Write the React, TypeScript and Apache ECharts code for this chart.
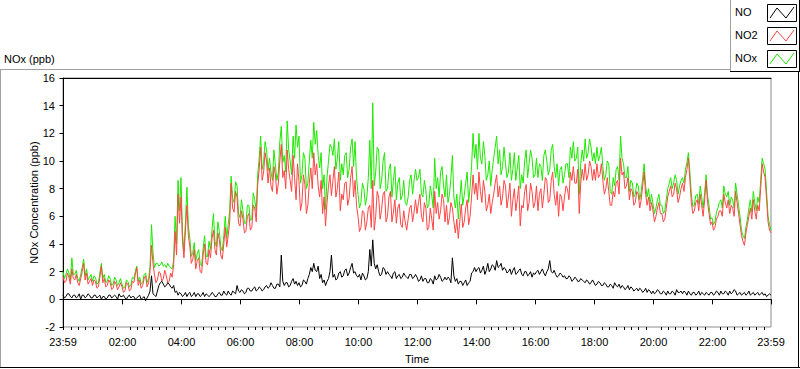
import React, { useEffect, useRef } from "react";
import * as echarts from "echarts";

// Time of first sample in minutes relative to 00:00 (23:59 of the previous day) and sample step
const START_MIN = -1;
const STEP_MIN = 3;

// NO (ppb), one row per hour
const NO = [
  0.3,0.1, 0.2,0.4, 0.4,0.2, 0.1,0.3, 0.3,0.1, 0.2,0.4, 0.0,0.3, 0.3,0.1, 0.2,0.4, 0.3,0.1,
  0.1,0.3, 0.3,0.1, 0.2,0.3, 0.0,0.2, 0.2,0.0, 0.1,0.3, 0.3,0.1, 0.2,0.3, 0.2,0.0, 0.4,0.2,
  0.2,0.3, 0.1,0.0, 0.2,0.3, 0.1,0.2, 0.2,0.0, 0.1,0.2, 0.3,0.0, 0.1,0.2, -0.1,0.1, 0.3,0.6,
  1.7,0.4, 0.3,0.2, 0.6,1.0, 1.2,1.3, 1.1,0.9, 1.0,1.2, 1.1,0.9, 0.8,1.0, 0.5,0.6, 0.3,0.5,
  0.4,0.2, 0.3,0.5, 0.2,0.4, 0.5,0.2, 0.3,0.5, 0.2,0.4, 0.4,0.2, 0.3,0.5, 0.2,0.4, 0.3,0.2,
  0.3,0.5, 0.4,0.2, 0.2,0.4, 0.5,0.3, 0.3,0.6, 0.4,0.3, 0.6,0.4, 0.3,0.6, 0.5,0.4, 1.0,0.6,
  0.5,0.7, 0.6,0.4, 0.5,0.8, 0.8,0.6, 0.6,0.8, 0.9,0.6, 0.7,0.9, 0.8,0.6, 0.7,0.9, 1.0,0.8,
  0.9,1.2, 1.0,0.8, 0.8,1.1, 1.1,0.9, 3.2,1.3, 1.0,1.2, 1.2,0.9, 1.0,1.3, 1.5,1.1, 1.3,1.0,
  1.2,0.9, 1.0,1.4, 1.3,1.1, 1.5,1.8, 2.3,2.0, 2.6,2.1, 2.0,2.4, 1.5,1.8, 1.2,1.4, 1.0,1.3,
  1.5,2.0, 3.2,1.6, 1.8,1.4, 1.5,1.9, 2.0,1.6, 1.7,2.1, 2.2,1.7, 1.9,2.3, 2.6,1.9, 2.0,1.7,
  1.6,1.8, 1.4,1.9, 1.7,1.4, 1.5,2.0, 3.6,2.4, 4.3,2.6, 2.2,2.5, 2.0,1.7, 1.8,2.3, 2.2,1.8,
  2.0,1.8, 1.7,1.5, 1.9,2.0, 1.5,1.7, 1.8,1.5, 1.6,1.9, 1.7,1.6, 1.5,1.8, 1.8,1.5, 1.6,1.8,
  1.6,1.3, 1.4,1.7, 1.3,1.5, 1.5,1.2, 1.2,1.5, 1.4,1.1, 1.7,1.4, 1.5,1.8, 1.6,1.3, 1.4,1.6,
  1.4,1.6, 1.5,1.2, 3.0,1.7, 1.3,1.5, 1.1,1.3, 1.3,1.0, 1.2,1.4, 1.0,1.2, 1.3,1.9, 2.0,2.3,
  2.0,2.2, 2.3,1.9, 2.1,2.4, 1.8,2.1, 2.6,2.0, 2.2,2.5, 2.4,2.1, 2.8,2.3, 2.4,2.6, 2.1,2.3,
  2.2,1.9, 2.0,2.2, 1.8,2.1, 2.3,1.8, 1.9,2.1, 2.2,1.8, 1.7,2.0, 2.0,1.7, 1.8,2.0, 1.6,1.9,
  1.8,2.0, 2.1,1.8, 2.0,2.2, 1.9,1.7, 2.0,2.2, 2.8,2.0, 1.9,2.1, 1.8,1.6, 1.7,1.9, 1.8,1.6,
  1.7,1.5, 1.5,1.7, 1.6,1.3, 1.4,1.6, 1.5,1.3, 1.3,1.5, 1.4,1.3, 1.2,1.4, 1.3,1.1, 1.2,1.4,
  1.2,1.0, 1.1,1.3, 1.2,1.0, 1.0,1.2, 1.1,0.9, 0.9,1.1, 1.0,0.8, 1.2,1.0, 0.9,1.1, 0.8,1.0,
  0.9,0.7, 0.8,1.0, 0.7,0.9, 0.8,0.6, 0.7,0.8, 0.6,0.8, 0.7,0.5, 0.6,0.8, 0.5,0.7, 0.6,0.4,
  0.6,0.4, 0.5,0.7, 0.6,0.4, 0.4,0.6, 0.5,0.3, 0.6,0.4, 0.4,0.6, 0.5,0.3, 0.7,0.5, 0.5,0.6,
  0.4,0.6, 0.5,0.3, 0.6,0.4, 0.3,0.5, 0.5,0.3, 0.4,0.6, 0.3,0.5, 0.4,0.3, 0.5,0.4, 0.3,0.5,
  0.5,0.3, 0.4,0.6, 0.5,0.3, 0.6,0.4, 0.4,0.6, 0.5,0.3, 0.6,0.4, 0.5,0.7, 0.6,0.3, 0.4,0.5,
  0.3,0.4, 0.5,0.3, 0.4,0.6, 0.3,0.4, 0.5,0.3, 0.4,0.5, 0.3,0.4, 0.5,0.3, 0.4,0.2, 0.3,0.4, 0.3,
];

// NO2 (ppb), one row per hour
const NO2 = [
  1.7,1.2, 1.3,1.9, 1.6,1.1, 2.2,1.5, 1.4,1.8, 1.2,1.0, 1.5,2.0, 2.6,1.4, 1.9,1.1, 1.3,1.5,
  1.0,1.4, 1.3,0.8, 0.9,1.6, 2.4,1.2, 1.5,0.9, 1.0,1.4, 1.2,0.7, 0.8,1.3, 1.1,0.7, 0.9,1.2,
  0.9,0.5, 0.6,1.2, 1.1,0.6, 0.7,1.3, 1.2,1.8, 2.3,1.0, 1.4,0.8, 1.0,1.5, 1.7,0.9, 1.2,2.0,
  3.9,2.6, 1.8,1.2, 1.4,2.0, 1.9,1.3, 1.5,2.1, 1.7,1.2, 1.3,1.9, 1.6,2.5, 4.9,3.2, 7.6,5.5,
  7.4,4.2, 3.0,5.0, 6.8,4.6, 3.8,2.6, 2.9,3.6, 2.2,2.8, 3.0,2.0, 1.9,3.2, 4.0,2.6, 2.5,3.6,
  3.0,4.4, 5.0,3.6, 3.2,4.8, 4.3,3.2, 2.9,4.0, 5.2,3.8, 4.6,5.6, 8.4,6.6, 6.3,7.8, 7.4,5.5,
  5.3,6.4, 5.8,4.8, 4.9,6.0, 6.2,5.0, 5.2,6.8, 6.6,5.6, 8.3,9.4, 11.0,8.6, 9.2,10.6, 10.0,8.4,
  9.5,8.2, 7.8,9.6, 9.0,7.6, 8.4,10.0, 11.2,8.8, 9.3,8.0, 10.8,9.4, 8.6,7.8, 10.4,8.8, 7.2,9.8,
  8.5,6.4, 7.0,9.0, 8.3,6.2, 6.8,8.4, 9.5,8.0, 10.6,9.0, 9.8,8.2, 7.4,8.6, 6.2,7.4, 5.3,7.0,
  8.2,9.0, 7.5,8.6, 9.6,7.4, 8.0,9.2, 6.4,7.6, 7.2,8.4, 8.5,6.8, 7.3,8.8, 9.6,7.4, 8.6,6.8,
  6.0,4.9, 5.2,6.4, 6.3,5.0, 5.6,6.6, 6.8,5.2, 8.6,5.0, 6.0,7.8, 7.4,5.8, 6.5,7.6, 7.8,5.6,
  6.0,7.4, 7.8,5.6, 6.3,7.2, 5.5,6.6, 6.9,5.4, 5.2,6.4, 5.6,5.0, 5.8,6.6, 6.8,5.6, 6.3,7.2,
  6.2,7.0, 7.6,6.0, 5.6,7.0, 6.6,5.0, 5.2,6.6, 5.8,5.0, 7.8,6.2, 7.0,5.8, 6.4,7.6, 7.2,5.6,
  6.8,5.4, 5.9,7.0, 6.6,5.6, 4.8,5.8, 4.4,5.6, 6.9,5.2, 5.6,6.6, 7.2,5.4, 6.0,7.4, 9.0,7.6,
  8.4,7.2, 9.2,7.8, 7.0,8.6, 7.8,6.4, 6.8,7.6, 6.2,7.0, 7.6,8.4, 9.0,7.4, 8.2,6.8, 7.4,8.6,
  8.2,6.6, 7.4,8.4, 6.0,7.2, 8.0,6.4, 7.2,8.2, 5.3,6.8, 6.6,7.8, 8.3,6.4, 7.0,8.4, 7.8,6.6,
  7.0,8.2, 6.4,7.6, 8.0,6.6, 7.6,8.8, 8.6,7.0, 7.2,8.6, 9.2,7.6, 6.8,7.8, 6.0,7.6, 7.4,6.4,
  7.4,8.2, 8.0,7.2, 9.2,8.6, 9.6,8.4, 8.4,9.4, 6.2,8.4, 9.4,8.6, 9.8,8.6, 9.0,10.0, 9.6,8.6,
  9.4,8.6, 9.8,8.8, 9.0,9.8, 8.6,7.6, 8.0,8.8, 7.8,6.8, 6.8,7.8, 7.4,8.4, 8.6,7.6, 10.2,9.0,
  9.2,8.0, 8.2,8.8, 7.2,8.0, 7.8,6.8, 7.0,7.8, 7.6,6.6, 7.2,8.2, 9.2,7.6, 6.8,7.4, 6.4,7.0,
  6.4,5.6, 6.0,6.6, 7.0,6.2, 6.2,5.6, 5.8,6.6, 7.4,7.8, 8.2,7.4, 7.6,8.4, 8.0,7.0, 7.4,8.0,
  8.4,7.8, 8.8,9.4, 10.2,8.6, 7.0,6.2, 6.4,7.0, 7.2,6.4, 7.6,6.8, 6.0,7.2, 8.6,7.0, 6.2,5.4,
  5.6,5.0, 5.2,5.8, 6.0,6.4, 6.4,6.0, 7.6,7.0, 6.6,7.2, 6.2,6.8, 6.6,6.0, 7.8,7.0, 6.2,5.4,
  4.6,4.2, 3.9,4.8, 5.4,6.0, 6.6,5.8, 7.2,6.4, 5.8,6.8, 6.4,8.0, 9.8,9.2, 8.8,7.2, 5.6,5.0, 4.8,
];

// NOx (ppb), one row per hour
const NOX = [
  2.0,1.5, 1.8,2.2, 1.9,1.4, 3.0,1.8, 1.8,2.1, 1.5,1.3, 1.8,2.3, 2.9,1.7, 2.2,1.4, 1.6,1.8,
  1.3,1.7, 1.6,1.1, 1.2,1.9, 2.6,1.5, 1.8,1.2, 1.3,1.7, 1.5,1.0, 1.1,1.6, 1.4,1.0, 1.2,1.5,
  1.1,0.8, 0.9,1.4, 1.3,0.9, 1.0,1.6, 1.5,2.0, 2.4,1.3, 1.6,1.1, 1.2,1.8, 1.9,1.2, 1.5,2.3,
  5.4,3.4, 2.3,2.6, 2.6,2.4, 2.5,2.7, 2.4,2.5, 2.3,2.6, 2.4,2.3, 2.2,2.8, 6.0,4.0, 8.6,6.4,
  8.8,4.8, 3.5,5.6, 8.1,5.3, 4.4,3.1, 3.4,4.1, 2.8,3.3, 3.6,2.6, 2.4,3.7, 4.6,3.1, 3.1,4.2,
  3.6,5.0, 6.2,4.2, 3.8,5.6, 4.9,3.8, 3.5,4.6, 6.0,4.4, 5.4,6.4, 8.9,7.3, 7.0,8.5, 8.2,6.2,
  5.9,7.2, 6.4,5.5, 5.5,6.8, 6.8,5.7, 5.8,7.7, 7.2,6.4, 9.0,10.2, 11.8,9.4, 9.9,11.4, 10.8,9.3,
  10.2,9.2, 8.6,10.8, 9.7,8.6, 9.2,11.4, 12.5,9.9, 10.4,9.2, 12.9,10.8, 10.0,9.0, 11.8,10.2, 12.6,11.0,
  11.8,8.4, 9.0,10.6, 10.2,8.0, 8.4,10.0, 11.5,10.2, 12.8,11.2, 12.2,10.4, 9.5,10.6, 8.0,9.0, 6.5,8.8,
  10.0,11.2, 11.0,10.4, 11.6,9.4, 10.2,11.4, 8.6,9.8, 9.0,10.4, 10.6,8.8, 9.4,11.0, 11.6,9.6, 11.4,8.8,
  7.6,6.6, 7.0,8.4, 8.0,6.8, 7.4,8.8, 11.5,8.0, 14.2,8.2, 9.2,11.0, 10.8,8.0, 8.6,10.0, 10.6,7.8,
  8.0,9.4, 9.8,7.4, 8.6,9.6, 7.2,8.4, 8.8,7.2, 7.5,8.6, 7.0,6.8, 7.4,8.6, 9.0,7.6, 8.6,9.4,
  8.6,8.8, 9.4,7.6, 7.4,8.6, 7.9,6.6, 6.8,8.2, 7.5,6.6, 10.2,8.0, 8.8,7.4, 9.2,9.6, 8.2,7.4,
  9.0,7.0, 7.6,8.8, 10.4,7.4, 6.6,7.6, 5.8,7.2, 8.6,6.8, 7.5,8.4, 9.2,7.0, 8.1,9.6, 12.0,10.2,
  11.2,9.4, 12.0,10.2, 9.8,11.4, 10.4,8.6, 9.0,10.0, 8.2,9.4, 10.2,11.0, 11.8,9.8, 10.8,9.0, 9.6,11.0,
  9.8,8.8, 9.2,10.6, 8.6,9.4, 10.6,8.6, 9.5,10.4, 8.0,9.0, 8.4,10.0, 10.8,8.8, 9.8,10.8, 10.2,8.8,
  9.0,10.2, 8.8,9.8, 9.6,8.6, 10.4,10.8, 10.0,9.0, 9.4,10.8, 11.2,9.6, 8.8,9.8, 8.2,9.4, 9.6,8.4,
  9.0,9.8, 9.8,8.8, 11.0,10.2, 11.4,10.0, 10.2,11.0, 7.6,9.8, 10.8,10.0, 11.6,10.2, 10.6,11.6, 11.0,10.0,
  10.6,9.8, 11.0,10.0, 10.4,11.0, 9.6,8.6, 9.0,10.0, 9.8,7.8, 7.6,8.8, 8.2,9.4, 9.6,8.6, 11.8,10.2,
  9.8,8.8, 8.8,9.6, 7.8,8.6, 8.4,7.4, 7.6,8.4, 8.2,7.2, 7.8,8.8, 9.8,8.2, 7.4,8.0, 6.9,7.6,
  6.9,6.2, 6.6,7.2, 7.6,6.8, 6.8,6.2, 6.4,7.2, 8.0,8.4, 8.8,8.0, 8.4,9.0, 8.6,7.6, 8.2,8.6,
  8.8,8.4, 9.4,9.9, 10.6,9.2, 7.6,6.7, 6.8,7.5, 7.6,6.9, 8.2,7.4, 6.6,7.7, 9.0,7.5, 6.8,5.8,
  5.9,5.4, 5.6,6.3, 6.6,7.0, 7.2,6.6, 8.2,7.6, 7.4,7.8, 6.8,7.4, 7.2,6.6, 8.4,7.6, 6.8,6.0,
  5.0,4.6, 4.4,5.2, 5.8,6.6, 7.2,6.3, 7.8,7.0, 6.4,7.4, 7.0,8.6, 10.2,9.8, 9.4,7.8, 6.0,5.4, 5.0,
];

// X axis: major tick positions (minutes since 00:00) and their labels
const MAJOR_TICKS = [-1, 120, 240, 360, 480, 600, 720, 840, 960, 1080, 1200, 1320, 1439];
const TICK_LABELS = ["23:59", "02:00", "04:00", "06:00", "08:00", "10:00", "12:00", "14:00", "16:00", "18:00", "20:00", "22:00", "23:59"];
const MINOR_STEP = 15;

const Y_MIN = -2;
const Y_MAX = 16;
const Y_STEP = 2;

const SERIES_NAMES = ["NO", "NO2", "NOx"];
const COLORS = { NO: "#000000", NO2: "#ff4545", NOx: "#1ee800" };

const FONT = "Liberation Sans, Arial, sans-serif";

function toPairs(values: number[]) {
  return values.map((v, i) => [START_MIN + i * STEP_MIN, v]);
}

export default function App() {
  const ref = useRef<HTMLDivElement>(null);

  useEffect(() => {
    if (!ref.current) return;
    const chart = echarts.init(ref.current, undefined, { renderer: "svg" });

    const minorTicks: number[] = [];
    for (let m = 0; m < 1440; m += MINOR_STEP) {
      if (!MAJOR_TICKS.includes(m) && m > -1 && m < 1439) minorTicks.push(m);
    }
    const labelFor = (v: number) => {
      const idx = MAJOR_TICKS.indexOf(Math.round(v));
      return idx >= 0 ? TICK_LABELS[idx] : "";
    };

    const legendItems = SERIES_NAMES.map((name, i) => {
      const y0 = 4 + i * 23;
      const color = (COLORS as any)[name];
      return [
        {
          type: "text",
          left: 735,
          top: y0 + 2,
          style: { text: name, fill: "#000", font: `11px ${FONT}` },
        },
        {
          type: "rect",
          shape: { x: 767.5, y: y0 + 0.5, width: 29, height: 17 },
          style: { fill: "#fff", stroke: "#000", lineWidth: 1 },
        },
        {
          type: "polyline",
          shape: {
            points: [
              [770, y0 + 14],
              [777, y0 + 4],
              [786, y0 + 14],
              [794, y0 + 3],
            ],
          },
          style: { stroke: color, lineWidth: 1, fill: "none" },
        },
      ];
    }).flat();

    const option: any = {
      animation: false,
      backgroundColor: "#ffffff",
      textStyle: { fontFamily: FONT },
      grid: {
        left: 63,
        right: 29,
        top: 78,
        bottom: 39,
        containLabel: false,
        show: true,
        borderColor: "#8c8c8c",
        borderWidth: 1,
        backgroundColor: "transparent",
      },
      xAxis: [
        {
          type: "value",
          min: MAJOR_TICKS[0],
          max: MAJOR_TICKS[MAJOR_TICKS.length - 1],
          position: "bottom",
          name: "Time",
          nameLocation: "middle",
          nameGap: 26,
          nameMoveOverlap: false,
          nameTextStyle: { color: "#000", fontSize: 11, fontFamily: FONT },
          axisLine: { show: true, lineStyle: { color: "#000", width: 1 } },
          axisTick: { show: true, customValues: MAJOR_TICKS, length: 5, inside: false, lineStyle: { color: "#000" } },
          axisLabel: {
            show: true,
            customValues: MAJOR_TICKS,
            formatter: (v: number) => labelFor(v),
            color: "#000",
            fontSize: 11,
            fontFamily: FONT,
            margin: 9,
            showMinLabel: true,
            showMaxLabel: true,
          },
          splitLine: { show: false },
        },
        {
          type: "value",
          min: MAJOR_TICKS[0],
          max: MAJOR_TICKS[MAJOR_TICKS.length - 1],
          position: "bottom",
          axisLine: { show: false },
          axisTick: { show: true, customValues: minorTicks, length: 3, inside: false, lineStyle: { color: "#000" } },
          axisLabel: { show: false },
          splitLine: { show: false },
        },
        {
          type: "value",
          min: MAJOR_TICKS[0],
          max: MAJOR_TICKS[MAJOR_TICKS.length - 1],
          position: "top",
          axisLine: { show: true, lineStyle: { color: "#000", width: 1 } },
          axisTick: { show: false },
          axisLabel: { show: false },
          splitLine: { show: false },
        },
      ],
      yAxis: [
        {
          type: "value",
          min: Y_MIN,
          max: Y_MAX,
          interval: Y_STEP,
          position: "left",
          name: "NOx Concentration (ppb)",
          nameLocation: "middle",
          nameGap: 24,
          nameMoveOverlap: false,
          nameTextStyle: { color: "#000", fontSize: 11, fontFamily: FONT },
          axisLine: { show: true, lineStyle: { color: "#000", width: 1 } },
          axisTick: { show: true, length: 4, inside: false, lineStyle: { color: "#000" } },
          axisLabel: { color: "#000", fontSize: 11, fontFamily: FONT, margin: 8 },
          splitLine: { show: false },
        },
      ],
      series: [
        {
          name: "NOx",
          type: "line",
          xAxisIndex: 0,
          yAxisIndex: 0,
          data: toPairs(NOX),
          showSymbol: false,
          symbol: "none",
          lineStyle: { color: COLORS.NOx, width: 1 },
          itemStyle: { color: COLORS.NOx },
          z: 2,
        },
        {
          name: "NO2",
          type: "line",
          xAxisIndex: 0,
          yAxisIndex: 0,
          data: toPairs(NO2),
          showSymbol: false,
          symbol: "none",
          lineStyle: { color: COLORS.NO2, width: 1 },
          itemStyle: { color: COLORS.NO2 },
          z: 3,
        },
        {
          name: "NO",
          type: "line",
          xAxisIndex: 0,
          yAxisIndex: 0,
          data: toPairs(NO),
          showSymbol: false,
          symbol: "none",
          lineStyle: { color: COLORS.NO, width: 1 },
          itemStyle: { color: COLORS.NO },
          z: 4,
        },
      ],
      graphic: [
        // outer panel frame (sunken look)
        { type: "line", shape: { x1: 0, y1: 69.5, x2: 730, y2: 69.5 }, style: { stroke: "#a0a0a0", lineWidth: 1 } },
        { type: "line", shape: { x1: 0.5, y1: 69, x2: 0.5, y2: 368 }, style: { stroke: "#a0a0a0", lineWidth: 1 } },
        { type: "line", shape: { x1: 0, y1: 367.5, x2: 800, y2: 367.5 }, style: { stroke: "#000", lineWidth: 1 } },
        { type: "line", shape: { x1: 798.5, y1: 69, x2: 798.5, y2: 368 }, style: { stroke: "#000", lineWidth: 1 } },
        // chart title
        { type: "text", left: 4, top: 53, style: { text: "NOx (ppb)", fill: "#000", font: `11px ${FONT}` } },
        // legend box
        { type: "rect", shape: { x: 730, y: 0, width: 70, height: 72 }, style: { fill: "#fff" } },
        { type: "line", shape: { x1: 730.5, y1: 0, x2: 730.5, y2: 72 }, style: { stroke: "#a0a0a0", lineWidth: 1 } },
        { type: "line", shape: { x1: 730, y1: 71.5, x2: 800, y2: 71.5 }, style: { stroke: "#000", lineWidth: 1 } },
        { type: "line", shape: { x1: 799.5, y1: 0, x2: 799.5, y2: 72 }, style: { stroke: "#000", lineWidth: 1 } },
        ...legendItems,
      ],
    };

    chart.setOption(option);
    return () => {
      chart.dispose();
    };
  }, []);

  return (
    <div
      ref={ref}
      style={{ position: "absolute", left: 0, top: 0, width: 800, height: 369, background: "#fff" }}
    />
  );
}
